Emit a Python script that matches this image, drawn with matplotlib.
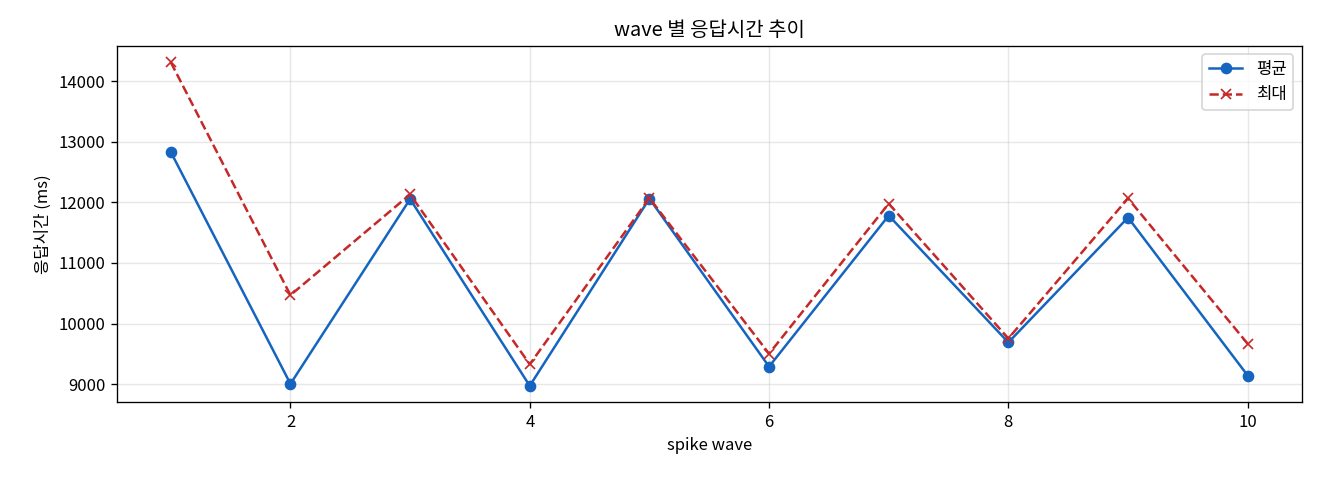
import matplotlib
matplotlib.use('agg')
import matplotlib.pyplot as plt

plt.rcParams['font.family'] = ['Noto Sans CJK KR', 'DejaVu Sans']
plt.rcParams['axes.unicode_minus'] = False

# data
waves = [1, 2, 3, 4, 5, 6, 7, 8, 9, 10]
avg_ms = [12831, 9005, 12054, 8973, 12061, 9290, 11782, 9689, 11749, 9143]
max_ms = [14311, 10469, 12131, 9328, 12070, 9503, 11978, 9754, 12066, 9667]

fig, ax = plt.subplots(figsize=(11, 4), dpi=120)
ax.plot(waves, avg_ms, 'o-', color='#1565C0', label='평균', markersize=6)
ax.plot(waves, max_ms, 'x--', color='#C62828', label='최대', markersize=6)
ax.set_title('wave 별 응답시간 추이')
ax.set_xlabel('spike wave')
ax.set_ylabel('응답시간 (ms)')
ax.grid(True, alpha=0.3)
ax.legend(loc='upper right')

fig.subplots_adjust(left=0.0886, right=0.986, top=0.904, bottom=0.1625)
fig.savefig('out.png')
plt.close(fig)
